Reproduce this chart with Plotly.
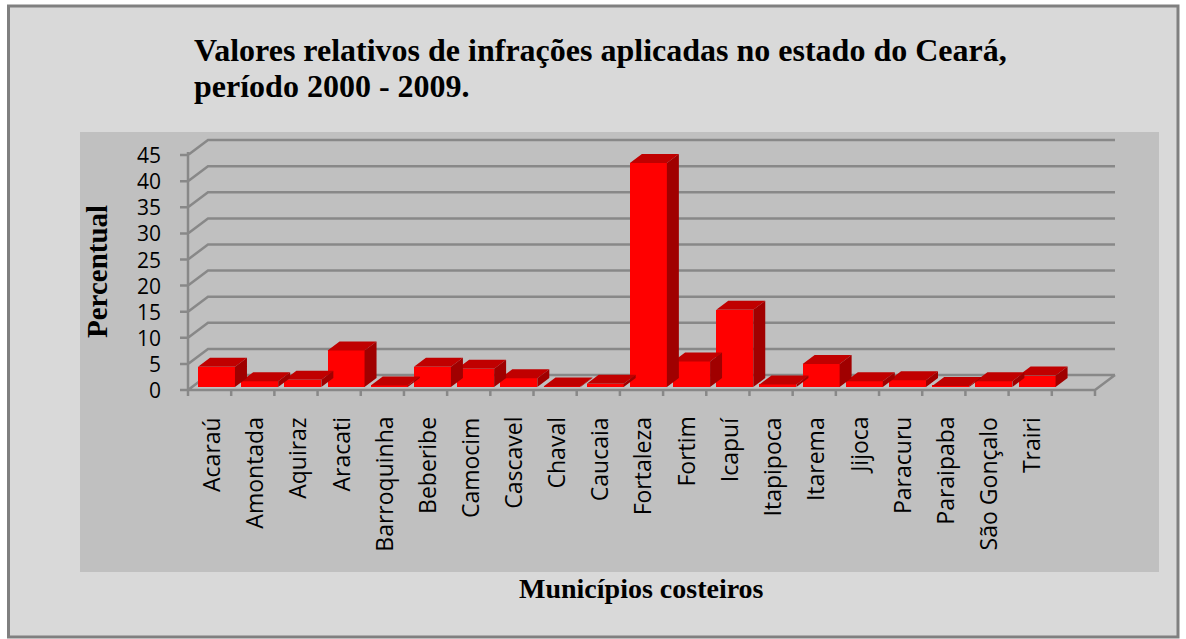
import plotly.graph_objects as go

# ---------------- data ----------------
categories = ["Acaraú", "Amontada", "Aquiraz", "Aracati", "Barroquinha", "Beberibe",
              "Camocim", "Cascavel", "Chaval", "Caucaia", "Fortaleza", "Fortim",
              "Icapuí", "Itapipoca", "Itarema", "Jijoca", "Paracuru", "Paraipaba",
              "São Gonçalo", "Trairi"]
values = [3.9, 1.1, 1.4, 7.0, 0.3, 3.9, 3.5, 1.7, 0.1, 0.6,
          42.9, 4.9, 14.8, 0.5, 4.4, 1.1, 1.3, 0.2, 1.1, 2.2]
y_ticks = [0, 5, 10, 15, 20, 25, 30, 35, 40, 45]
title_lines = ["Valores relativos de infrações aplicadas no estado do Ceará,",
               "período 2000 - 2009."]
x_title = "Municípios costeiros"
y_title = "Percentual"

# ---------------- geometry ----------------
W, H = 1186, 639
PL, PR, PT, PB = 80, 1159, 132, 572       # grey plot-area box (px)
SLOT_PX, X0_PX = 43.19, 188               # category slot width, x of slot 0
UNIT_PX, Y0_PX = 5.22, 390                # px per percent, y of value 0
N_SLOTS = len(categories) + 1             # Excel leaves an empty slot at the end
X_RANGE = [(PL - X0_PX) / SLOT_PX, (PR - X0_PX) / SLOT_PX]
Y_RANGE = [(Y0_PX - PB) / UNIT_PX, (Y0_PX - PT) / UNIT_PX]
DX, DY = 20 / SLOT_PX, 15 / UNIT_PX       # depth of the 3D floor
F0, F1 = 0.2, 0.8                          # bar depth position (fraction)
BAR_W = 0.856
BAR_C = 0.567
YMAX = max(y_ticks)


def pxx(p):
    return (p - PL) / (PR - PL)


def pxy(p):
    return (PB - p) / (PB - PT)


GRID = "#888888"
fig = go.Figure()

# grid / walls as one data-referenced path, drawn beneath the bars
segs = []
for v in y_ticks:
    segs.append(((0, v), (DX, v + DY), (N_SLOTS + DX, v + DY)))
    segs.append(((-0.185, v), (0, v)))
segs.append(((0, 0), (0, YMAX + 0.6)))
segs.append(((0, 0), (N_SLOTS, 0), (N_SLOTS + DX, DY)))
for i in range(N_SLOTS + 1):
    segs.append(((i, 0), (i, -1.15)))
path = ""
for s in segs:
    path += "M%.4f,%.4f" % s[0] + "".join("L%.4f,%.4f" % p for p in s[1:]) + " "

# front faces of the bars
base = F0 * DY
fig.add_trace(go.Bar(x=[i + BAR_C + F0 * DX for i in range(len(values))],
                     y=values, base=base, width=BAR_W,
                     marker=dict(color="#ff0000", line=dict(width=0)),
                     showlegend=False, hovertext=categories))

ddx, ddy = (F1 - F0) * DX, (F1 - F0) * DY
tx, ty, sx, sy = [], [], [], []
for i, v in enumerate(values):
    xl = i + BAR_C + F0 * DX - BAR_W / 2
    xr = xl + BAR_W
    top = base + v
    tx += [xl, xr, xr + ddx, xl + ddx, xl, None]
    ty += [top, top, top + ddy, top + ddy, top, None]
    sx += [xr, xr, xr + ddx, xr + ddx, xr, None]
    sy += [base, top, top + ddy, base + ddy, base, None]
fig.add_trace(go.Scatter(x=tx, y=ty, mode="lines", fill="toself", fillcolor="#c00000",
                         line=dict(width=0, color="#c00000"), hoverinfo="skip", showlegend=False))
fig.add_trace(go.Scatter(x=sx, y=sy, mode="lines", fill="toself", fillcolor="#a00000",
                         line=dict(width=0, color="#a00000"), hoverinfo="skip", showlegend=False))

annotations = []
for v in y_ticks:
    annotations.append(dict(x=-0.58, y=v, xref="x", yref="y", text=str(v), showarrow=False,
                            xanchor="right", yanchor="middle",
                            font=dict(family="Open Sans", size=21, color="#000000")))
for i, c in enumerate(categories):
    annotations.append(dict(x=i + 0.52, y=(Y0_PX - 415) / UNIT_PX, xref="x", yref="y", text=c,
                            showarrow=False, textangle=-90, xanchor="center", yanchor="top",
                            font=dict(family="Open Sans", size=23, color="#000000")))
serif = "Liberation Serif"
annotations.append(dict(x=pxx(192), y=pxy(50), xref="paper", yref="paper", text="<b>%s</b>" % title_lines[0],
                        showarrow=False, xanchor="left", yanchor="middle",
                        font=dict(family=serif, size=32, color="#000000")))
annotations.append(dict(x=pxx(192), y=pxy(86), xref="paper", yref="paper", text="<b>%s</b>" % title_lines[1],
                        showarrow=False, xanchor="left", yanchor="middle",
                        font=dict(family=serif, size=32, color="#000000")))
annotations.append(dict(x=pxx(97), y=pxy(272), xref="paper", yref="paper", text="<b>%s</b>" % y_title,
                        showarrow=False, textangle=-90, xanchor="center", yanchor="middle",
                        font=dict(family=serif, size=29, color="#000000")))
annotations.append(dict(x=pxx(641), y=pxy(588), xref="paper", yref="paper", text="<b>%s</b>" % x_title,
                        showarrow=False, xanchor="center", yanchor="middle",
                        font=dict(family=serif, size=28, color="#000000")))

shapes = [
    dict(type="rect", xref="paper", yref="paper", x0=pxx(8.5), x1=pxx(1178), y0=pxy(6), y1=pxy(637),
         fillcolor="#d9d9d9", line=dict(color="#808080", width=3), layer="below"),
    dict(type="rect", xref="paper", yref="paper", x0=0, x1=1, y0=0, y1=1,
         fillcolor="#c0c0c0", line=dict(width=0), layer="below"),
    dict(type="path", xref="x", yref="y", path=path.strip(),
         line=dict(color=GRID, width=2.5), layer="below"),
]

fig.update_layout(
    width=W, height=H,
    margin=dict(l=PL, r=W - PR, t=PT, b=H - PB, pad=0),
    paper_bgcolor="#ffffff", plot_bgcolor="rgba(0,0,0,0)",
    xaxis=dict(range=X_RANGE, visible=False, fixedrange=True),
    yaxis=dict(range=Y_RANGE, visible=False, fixedrange=True),
    annotations=annotations, shapes=shapes, showlegend=False, bargap=0,
)

fig.write_html("out.html")
